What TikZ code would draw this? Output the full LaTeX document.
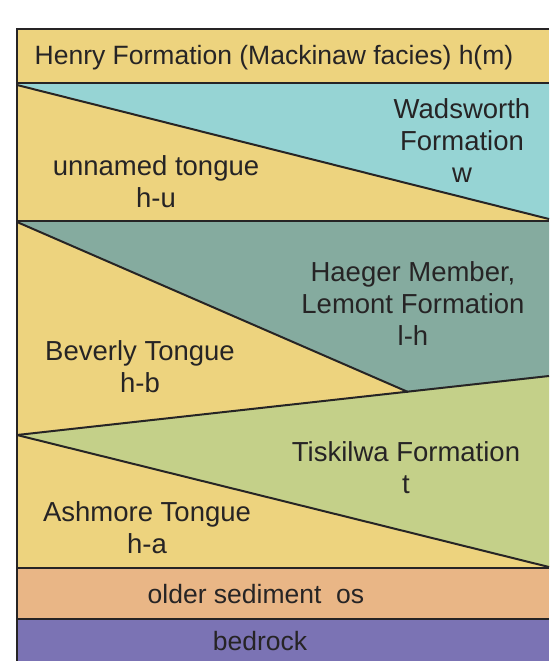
\documentclass[tikz,border=0pt]{standalone}
\usepackage{fontspec}
\setmainfont{Liberation Sans}
\definecolor{henryY}{HTML}{EDD37E}
\definecolor{wadC}{HTML}{96D4D4}
\definecolor{haegT}{HTML}{85AB9F}
\definecolor{tiskG}{HTML}{C4D089}
\definecolor{oldO}{HTML}{E9B686}
\definecolor{bedP}{HTML}{7B73B4}
\definecolor{lineK}{HTML}{262425}
\tikzset{
  contact/.style={draw=lineK, line width=2pt},
  bound/.style={draw=lineK, line width=2.6pt},
  lbl/.style={anchor=base, align=center, text=lineK, inner sep=0pt, font=\fontsize{27.5}{32}\selectfont},
  lblsmall/.style={lbl, font=\fontsize{26.5}{32}\selectfont}
}
\begin{document}
\begin{tikzpicture}[x=1pt,y=-1pt]
\useasboundingbox (0,0) rectangle (549,661);
% fills
\fill[henryY] (17,29) rectangle (549,568);
\fill[wadC] (17,84) -- (549,84) -- (549,219) -- cycle;
\fill[haegT] (17,222) -- (549,222) -- (549,376) -- (408,392) -- cycle;
\fill[tiskG] (17,435) -- (549,376) -- (549,567) -- cycle;
\fill[oldO] (17,568) rectangle (549,619);
\fill[bedP] (17,619) rectangle (549,661);
% contacts
\coordinate (wL) at (17,85);
\coordinate (wR) at (549,219);
\coordinate (hL) at (17,222);
\coordinate (hR) at (408,392);
\coordinate (tL) at (17,435);
\coordinate (tU) at (549,376);
\coordinate (tD) at (549,567);
\draw[contact] (wL) -- (wR);
\draw[contact] (hL) -- (hR);
\draw[contact] (tL) -- (tU);
\draw[contact] (tL) -- (tD);
% boundaries
\draw[bound] (549,29) -- (17,29) -- (17,661);
\draw[bound] (17,83) -- (549,83);
\draw[bound] (17,221) -- (549,221);
\draw[bound] (17,568) -- (549,568);
\draw[bound] (17,619) -- (549,619);
% labels
\node[lblsmall] (henry) at (274,65) {Henry Formation (Mackinaw facies) h(m)};
\node[lbl] (wad) at (462,182) {Wadsworth\\Formation\\w};
\node[lbl] (unn) at (156,207) {unnamed tongue\\h-u};
\node[lbl] (haeg) at (413,345) {Haeger Member,\\Lemont Formation\\l-h};
\node[lbl] (bev) at (140,392) {Beverly Tongue\\h-b};
\node[lbl] (tisk) at (406,493) {Tiskilwa Formation\\t};
\node[lbl] (ash) at (147,553) {Ashmore Tongue\\h-a};
\node[lblsmall] (old) at (256,603) {older sediment\ \ os};
\node[lblsmall] (bed) at (260,650) {bedrock};
\end{tikzpicture}
\end{document}
